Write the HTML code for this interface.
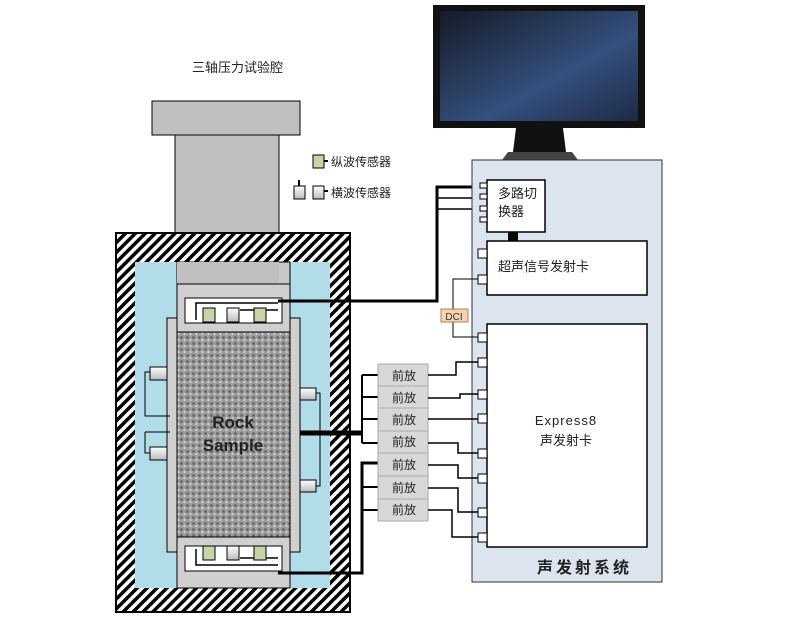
<!DOCTYPE html>
<html><head><meta charset="utf-8"><style>
body{margin:0;background:#fff}
svg text{font-family:"Liberation Sans","Noto Sans CJK SC",sans-serif}
</style></head><body>
<svg width="800" height="621" viewBox="0 0 800 621" xmlns="http://www.w3.org/2000/svg">
<defs>
<pattern id="h" width="7" height="7" patternUnits="userSpaceOnUse" patternTransform="rotate(45)">
<rect width="7" height="7" fill="#fff"/><rect width="3.5" height="7" fill="#000"/></pattern>
<linearGradient id="scr" x1="0" y1="0" x2="1" y2="1"><stop offset="0" stop-color="#151a26"/><stop offset="0.6" stop-color="#34507e"/><stop offset="1" stop-color="#1d2a45"/></linearGradient>
<pattern id="rock" width="6" height="6" patternUnits="userSpaceOnUse"><rect width="6" height="6" fill="#9c9c9c"/><circle cx="1.5" cy="1.5" r="1.3" fill="#5e5e5e"/><circle cx="4.5" cy="4" r="1.1" fill="#d4d4d4"/></pattern>
<linearGradient id="cyl" x1="0" y1="0" x2="0" y2="1"><stop offset="0" stop-color="#fff"/><stop offset="1" stop-color="#bbb"/></linearGradient>
</defs>
<!-- monitor -->
<rect x="433" y="5" width="212" height="123" fill="#111"/>
<rect x="440" y="11" width="198" height="110" fill="url(#scr)"/>
<polygon points="516,128 563,128 566,152 513,152" fill="#111"/>
<polygon points="508,152 572,152 578,160 502,160" fill="#444"/>
<text x="192" y="72" font-size="13" fill="#222">三轴压力试验腔</text>
<!-- piston -->
<rect x="152" y="101" width="148" height="34" fill="#c0c0c0" stroke="#000"/>
<rect x="175" y="135" width="104" height="150" fill="#c0c0c0" stroke="#000"/>
<!-- legend -->
<rect x="313" y="155" width="11" height="13" fill="#c8d4a8" stroke="#000"/><rect x="324" y="160" width="4" height="2" fill="#000"/>
<text x="331" y="166" font-size="12" fill="#222">纵波传感器</text>
<rect x="294" y="186" width="11" height="13" fill="url(#cyl)" stroke="#000"/><line x1="299" y1="180" x2="299" y2="186" stroke="#000" stroke-width="2"/>
<rect x="313" y="186" width="11" height="13" fill="url(#cyl)" stroke="#000"/><rect x="324" y="190" width="4" height="2" fill="#000"/>
<text x="331" y="197" font-size="12" fill="#222">横波传感器</text>
<!-- vessel -->
<rect x="116" y="233" width="234" height="379" fill="url(#h)" stroke="#000" stroke-width="2"/>
<rect x="135" y="262" width="195" height="326" fill="#b0dde8"/>
<rect x="177" y="262" width="113" height="326" fill="#c8c8c8" stroke="#000"/>
<rect x="177" y="262" width="102" height="22" fill="#c0c0c0"/>
<rect x="167" y="318" width="10" height="234" fill="#d0d0d0" stroke="#000"/>
<rect x="290" y="318" width="10" height="234" fill="#d0d0d0" stroke="#000"/>
<rect x="177" y="284" width="113" height="48" fill="#d0d0d0" stroke="#000"/>
<rect x="185" y="298" width="97" height="25" fill="#fff" stroke="#000"/>
<rect x="177" y="332" width="113" height="205" fill="url(#rock)" stroke="#000"/>
<text x="233" y="428" font-size="17" font-weight="bold" text-anchor="middle" fill="#222">Rock</text>
<text x="233" y="451" font-size="17" font-weight="bold" text-anchor="middle" fill="#222">Sample</text>
<rect x="177" y="537" width="113" height="51" fill="#d0d0d0" stroke="#000"/>
<rect x="185" y="546" width="97" height="25" fill="#fff" stroke="#000"/>
<!-- top sensors -->
<path d="M196,320 V303 H278 M240,310 H278" stroke="#000" fill="none" stroke-width="1.5"/>
<rect x="203" y="308" width="12" height="14" fill="#c8d4a8" stroke="#000"/>
<rect x="227" y="308" width="12" height="14" fill="url(#cyl)" stroke="#000"/>
<rect x="254" y="308" width="12" height="14" fill="#c8d4a8" stroke="#000"/>
<!-- bottom sensors -->
<path d="M196,549 V565 H278 M240,558 H278" stroke="#000" fill="none" stroke-width="1.5"/>
<rect x="203" y="546" width="12" height="14" fill="#c8d4a8" stroke="#000"/>
<rect x="227" y="546" width="12" height="14" fill="url(#cyl)" stroke="#000"/>
<rect x="254" y="546" width="12" height="14" fill="#c8d4a8" stroke="#000"/>
<!-- side sensors -->
<rect x="150" y="367" width="17" height="13" fill="url(#cyl)" stroke="#000"/>
<rect x="150" y="447" width="17" height="13" fill="url(#cyl)" stroke="#000"/>
<path d="M150,372 H145 V416 H170 M145,432 H170 M150,453 H145 V432" stroke="#000" fill="none"/>
<rect x="300" y="388" width="16" height="12" fill="url(#cyl)" stroke="#000"/>
<rect x="300" y="480" width="16" height="12" fill="url(#cyl)" stroke="#000"/>
<path d="M316,393 H320 V486 H316 M300,432 H320" stroke="#000" fill="none"/>
<!-- wires -->
<path d="M278,301 H437 V187 H478" stroke="#000" fill="none" stroke-width="3"/>
<path d="M437,198 H478 M437,209 H478" stroke="#000" fill="none" stroke-width="1.5"/>
<path d="M300,433 H362" stroke="#000" stroke-width="5"/>
<path d="M278,573 H362 V463 H378" stroke="#000" fill="none" stroke-width="3"/>
<path d="M362,375 V443 M362,375 H378 M362,397 H378 M362,419 H378 M362,443 H378 M362,487 H378 M362,510 H378" stroke="#000" fill="none" stroke-width="2"/>
<!-- system panel -->
<rect x="472" y="160" width="190" height="422" fill="#dbe4ef" stroke="#333"/>
<rect x="487" y="180" width="58" height="52" fill="#fff" stroke="#000" stroke-width="1.5"/>
<text x="498" y="198" font-size="13" fill="#222">多路切</text>
<text x="498" y="216" font-size="13" fill="#222">换器</text>
<rect x="508" y="232" width="10" height="9" fill="#000"/>
<rect x="487" y="241" width="160" height="54" fill="#fff" stroke="#000" stroke-width="1.5"/>
<text x="498" y="271" font-size="13" fill="#222">超声信号发射卡</text>
<rect x="487" y="324" width="160" height="223" fill="#fff" stroke="#000" stroke-width="1.5"/>
<text x="566" y="425" font-size="13" text-anchor="middle" fill="#222" letter-spacing="1">Express8</text>
<text x="566" y="445" font-size="13" text-anchor="middle" fill="#222">声发射卡</text>
<text x="537" y="573" font-size="16" font-weight="bold" fill="#222" font-family="Liberation Serif,Noto Serif CJK SC,serif" letter-spacing="3">声发射系统</text>
<g fill="#fff" stroke="#000">
<rect x="480" y="183" width="7" height="5"/><rect x="480" y="194" width="7" height="5"/><rect x="480" y="206" width="7" height="5"/><rect x="480" y="217" width="7" height="5"/>
<rect x="478" y="249" width="9" height="9"/><rect x="478" y="275" width="9" height="9"/>
<rect x="478" y="333" width="9" height="9"/><rect x="478" y="358" width="9" height="9"/><rect x="478" y="390" width="9" height="9"/><rect x="478" y="414" width="9" height="9"/><rect x="478" y="449" width="9" height="9"/><rect x="478" y="474" width="9" height="9"/><rect x="478" y="508" width="9" height="9"/><rect x="478" y="533" width="9" height="9"/>
</g>
<path d="M478,279 H453 V337 H478" stroke="#000" fill="none"/>
<rect x="441" y="309" width="27" height="13" fill="#f6d2b0" stroke="#b08060"/>
<text x="454" y="320" font-size="10" text-anchor="middle" fill="#333">DCI</text>
<!-- preamps -->
<g stroke="#aaa" fill="#d8d8d8">
<rect x="378" y="364" width="50" height="22"/><rect x="378" y="386" width="50" height="22"/><rect x="378" y="408" width="50" height="23"/><rect x="378" y="431" width="50" height="22"/><rect x="378" y="453" width="50" height="23"/><rect x="378" y="476" width="50" height="23"/><rect x="378" y="499" width="50" height="22"/>
</g>
<g font-size="12" fill="#222" text-anchor="middle">
<text x="404" y="380">前放</text><text x="404" y="402">前放</text><text x="404" y="424">前放</text><text x="404" y="446">前放</text><text x="404" y="469">前放</text><text x="404" y="492">前放</text><text x="404" y="514">前放</text>
</g>
<path d="M428,375 H456 V362 H478 M428,398 H460 V394 H478 M428,419 H478 M428,443 H458 V453 H478 M428,465 H458 V478 H478 M428,488 H458 V512 H478 M428,510 H452 V537 H478" stroke="#000" fill="none" stroke-width="1.5"/>
</svg>
</body></html>
